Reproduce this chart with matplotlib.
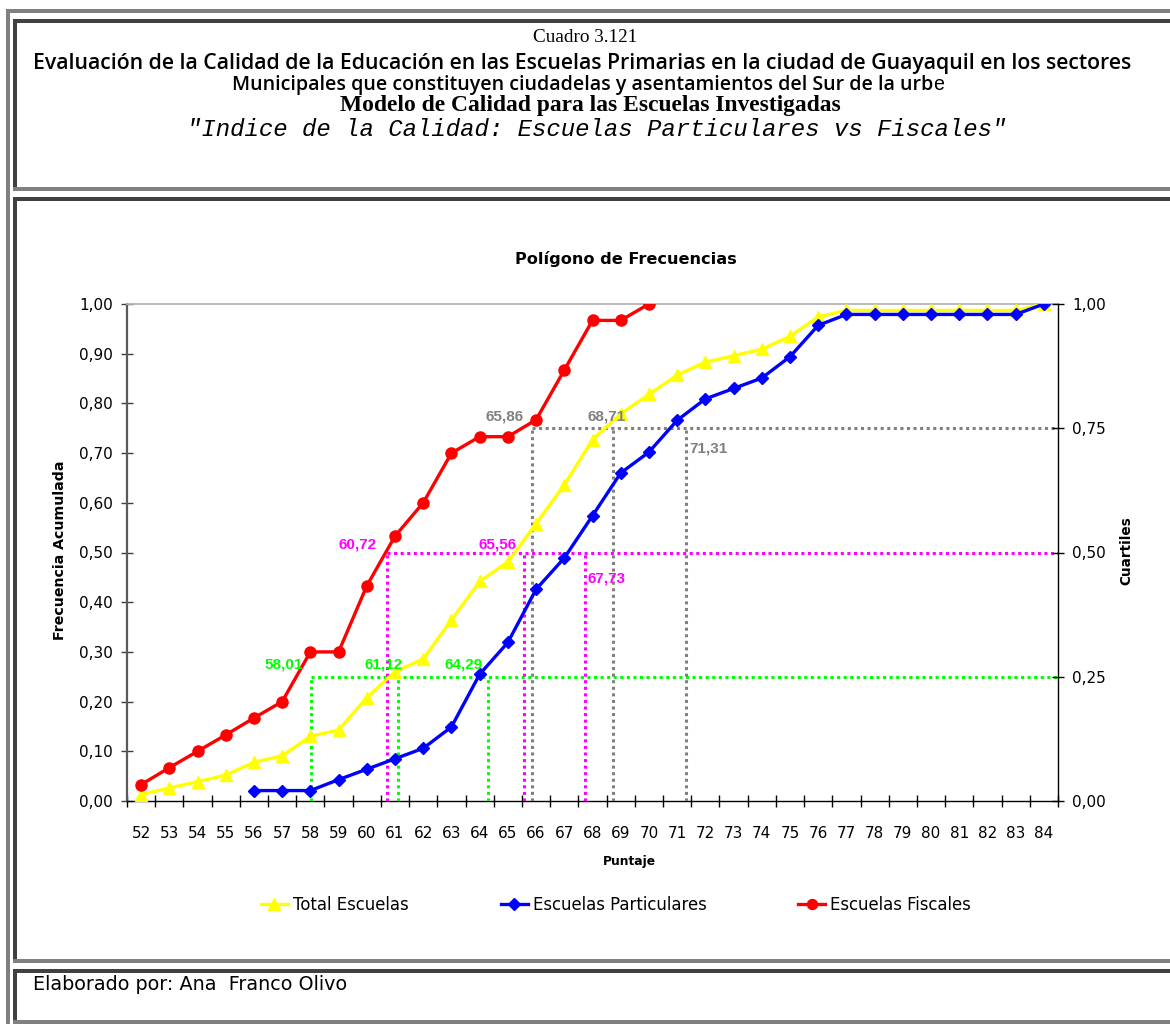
import matplotlib
matplotlib.use('Agg')
import matplotlib.pyplot as plt
from matplotlib.patches import Rectangle
from matplotlib.ticker import FuncFormatter
import numpy as np

plt.rcParams['font.family'] = ['DejaVu Sans']

# puntajes y frecuencias acumuladas
puntaje = list(range(52, 85))
total = [0.013, 0.026, 0.039, 0.052, 0.078, 0.091, 0.130, 0.143, 0.208, 0.260,
         0.286, 0.364, 0.442, 0.481, 0.558, 0.636, 0.727, 0.779, 0.818, 0.857,
         0.883, 0.896, 0.909, 0.935, 0.974, 0.987, 0.987, 0.987, 0.987, 0.987,
         0.987, 0.987, 1.000]
puntaje_part = list(range(56, 85))
particulares = [0.021, 0.021, 0.021, 0.043, 0.064, 0.085, 0.106, 0.149, 0.255,
                0.319, 0.426, 0.489, 0.574, 0.660, 0.702, 0.766, 0.809, 0.830,
                0.851, 0.894, 0.957, 0.979, 0.979, 0.979, 0.979, 0.979, 0.979,
                0.979, 1.000]
puntaje_fisc = list(range(52, 71))
fiscales = [0.033, 0.067, 0.100, 0.133, 0.167, 0.200, 0.300, 0.300, 0.433,
            0.533, 0.600, 0.700, 0.733, 0.733, 0.767, 0.867, 0.967, 0.967, 1.000]

# cuartiles (fiscales, total, particulares)
q1 = [58.01, 61.12, 64.29]
q2 = [60.72, 65.56, 67.73]
q3 = [65.86, 68.71, 71.31]
niveles = [0.25, 0.50, 0.75]

W, H = 1170, 1024
fig = plt.figure(figsize=(W / 100, H / 100), dpi=100)
rend = fig.canvas.get_renderer()


def fx(x):
    return x / W


def fy(y):
    return 1 - y / H


def bar(x0, y0, x1, y1, color):
    fig.add_artist(Rectangle((fx(x0), fy(y1)), fx(x1) - fx(x0), fy(y0) - fy(y1),
                             transform=fig.transFigure, facecolor=color,
                             edgecolor='none'))


def fit(t, length, vertical=False):
    # ajusta el tamaño de letra para que el texto ocupe "length" pixeles
    ext = t.get_window_extent(rend)
    actual = ext.height if vertical else ext.width
    t.set_fontsize(t.get_fontsize() * length / actual)
    return t


light = '#808080'
dark = '#404040'
# marco exterior
bar(6, 9, W, 12.7, light)
bar(6, 9, 10, H, light)
# recuadros: encabezado, grafico, pie
for top, bottom in [(19, 191), (197, 963), (969, H)]:
    bar(13, top, W, top + 4, dark)
    bar(13, top, 17, bottom, dark)
    bar(13, bottom - 4, W, bottom, light)

# encabezado
fit(fig.text(fx(585), fy(38), 'Cuadro 3.121', ha='center', va='center',
             family='Liberation Serif', fontsize=13), 104)
fit(fig.text(fx(582), fy(63), 'Evaluación de la Calidad de la Educación en las Escuelas '
             'Primarias en la ciudad de Guayaquil en los sectores',
             ha='center', va='center', family='Open Sans', weight='semibold',
             fontsize=13), 1102)
t3 = fit(fig.text(fx(232), fy(90), 'Municipales que constituyen ciudadelas y '
                  'asentamientos del Sur de la urb', ha='left', va='baseline',
                  family='Open Sans', weight='semibold', fontsize=13), 697)
fit(fig.text(fx(590), fy(106), 'Modelo de Calidad para las Escuelas Investigadas',
             ha='center', va='center', family='Liberation Serif', weight='bold',
             fontsize=14), 503)
fit(fig.text(fx(597), fy(129), '"Indice de la Calidad: Escuelas Particulares vs Fiscales"',
             ha='center', va='center', family='Liberation Mono', style='italic',
             fontsize=15), 821)
ext = t3.get_window_extent(rend)
fig.text(ext.x1 / W, fy(90), 'e', ha='left', va='baseline',
         family='Liberation Sans', fontsize=t3.get_fontsize())

# grafico
ax = fig.add_axes([fx(127), fy(801), fx(1058) - fx(127), fy(304) - fy(801)])
ax.set_xlim(51.5, 84.5)
ax.set_ylim(0, 1)

ax.plot(puntaje, total, color='#FFFF00', lw=2.4, marker='^', ms=9,
        label='Total Escuelas', zorder=5)
ax.plot(puntaje_part, particulares, color='#0000FF', lw=2.4, marker='D', ms=6.5,
        label='Escuelas Particulares', zorder=6)
ax.plot(puntaje_fisc, fiscales, color='#FF0000', lw=2.4, marker='o', ms=8,
        label='Escuelas Fiscales', zorder=7)

colores_q = ['#00FF00', '#FF00FF', '#808080']
dots = (0, (1, 1.15))
for vals, nivel, c in zip([q1, q2, q3], niveles, colores_q):
    ax.plot([min(vals), 84.5], [nivel, nivel], color=c, lw=2.2, ls=dots, zorder=3)
    for v in vals:
        ax.plot([v, v], [0, nivel], color=c, lw=2.2, ls=dots, zorder=3)

# etiquetas de los cuartiles: (ha, va, dx, dy) en pixeles
pos_q = [[('right', 'bottom', -8, 5), ('right', 'bottom', 4, 5), ('right', 'bottom', -5, 5)],
         [('right', 'bottom', -10, 1), ('right', 'bottom', -7, 1), ('left', 'top', 3, -19)],
         [('right', 'bottom', -9, 5), ('center', 'bottom', -6, 5), ('left', 'top', 3, -13)]]
for vals, nivel, c, pos in zip([q1, q2, q3], niveles, colores_q, pos_q):
    for v, (ha, va, dx, dy) in zip(vals, pos):
        ax.annotate(f'{v:.2f}'.replace('.', ','), xy=(v, nivel), xytext=(dx, dy),
                    textcoords='offset pixels', ha=ha, va=va, color=c,
                    family='Liberation Sans', fontsize=11, fontweight='bold', zorder=8)

coma = FuncFormatter(lambda v, p: f'{v:.2f}'.replace('.', ','))
ax.set_yticks(np.arange(0, 1.01, 0.1))
ax.yaxis.set_major_formatter(coma)
ax.set_xticks(puntaje)
ax.set_xticks(np.arange(51.5, 85, 1), minor=True)
ax.tick_params(axis='x', which='major', length=0, pad=18, labelsize=11)
ax.tick_params(axis='x', which='minor', direction='inout', length=8, width=1)
ax.tick_params(axis='y', direction='inout', length=8, width=1, color='#404040',
               labelsize=11, pad=6)

ax.spines['left'].set_color('#5a5a5a')
ax.spines['left'].set_linewidth(1.6)
ax.spines['top'].set_color('#b4b4b4')
ax.spines['top'].set_linewidth(1.3)
ax.spines['right'].set_visible(False)
ax.spines['bottom'].set_linewidth(1)

ax2 = ax.twinx()
ax2.set_ylim(0, 1)
ax2.set_yticks([0, 0.25, 0.5, 0.75, 1])
ax2.yaxis.set_major_formatter(coma)
ax2.tick_params(axis='y', direction='inout', length=8, width=1, labelsize=11, pad=6)
for s in ['left', 'top', 'bottom']:
    ax2.spines[s].set_visible(False)
ax2.spines['right'].set_linewidth(1)

fit(fig.text(fx(626), fy(259), 'Polígono de Frecuencias', ha='center', va='center',
             fontsize=11, fontweight='bold'), 220)
fit(fig.text(fx(60), fy(550), 'Frecuencia Acumulada', ha='center', va='center',
             rotation=90, fontsize=10, fontweight='bold'), 180, vertical=True)
fit(fig.text(fx(1126), fy(551), 'Cuartiles', ha='center', va='center',
             rotation=90, fontsize=10, fontweight='bold'), 69, vertical=True)
fit(fig.text(fx(629), fy(861), 'Puntaje', ha='center', va='center',
             fontsize=9, fontweight='bold'), 53)

# tamaño de la leyenda a partir del ancho de "Escuelas Particulares"
prueba = fig.text(0, 0, 'Escuelas Particulares', fontsize=11)
fs_ley = prueba.get_fontsize() * 175 / prueba.get_window_extent(rend).width
prueba.remove()
em = fs_ley * 100 / 72
handles, labels = ax.get_legend_handles_labels()
fig.legend(handles, labels, loc='center', bbox_to_anchor=(fx(616), fy(905)),
           ncol=3, frameon=False, fontsize=fs_ley, columnspacing=92 / em,
           handlelength=27 / em, handletextpad=5 / em, markerscale=0.9)

fit(fig.text(fx(33), fy(985), 'Elaborado por: Ana  Franco Olivo', ha='left',
             va='center', fontsize=12.5), 315)

fig.savefig('out.png', dpi=100)
